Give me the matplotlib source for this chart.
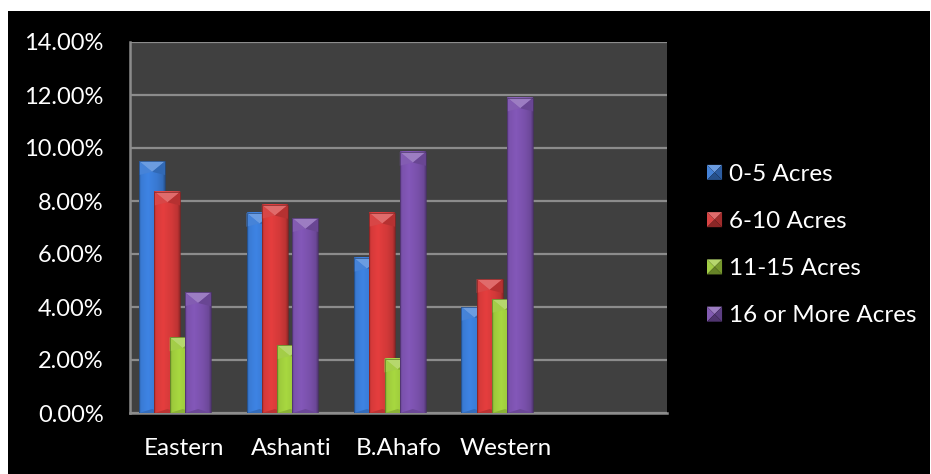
import numpy as np
import matplotlib.pyplot as plt
from matplotlib.patches import Rectangle, Polygon
from matplotlib.legend_handler import HandlerBase
from matplotlib.colors import to_rgb

plt.rcParams['font.family'] = ['Lato', 'DejaVu Sans']

# === Data (percent of farmers) ===
regions = ['Eastern', 'Ashanti', 'B.Ahafo', 'Western']
series_names = ['0-5 Acres', '6-10 Acres', '11-15 Acres', '16 or More Acres']
acres_0_5 = [9.5, 7.55, 5.85, 4.0]
acres_6_10 = [8.35, 7.85, 7.55, 5.05]
acres_11_15 = [2.85, 2.55, 2.05, 4.3]
acres_16_plus = [4.55, 7.35, 9.85, 11.9]
yticks = [0, 2, 4, 6, 8, 10, 12, 14]

series = [acres_0_5, acres_6_10, acres_11_15, acres_16_plus]
colors = ['#3a7bd5', '#d63a3a', '#9dca3c', '#7b52ad']


def shade(c, f):
    r = np.array(to_rgb(c)) * f
    return tuple(np.clip(r, 0, 1))


def tint(c, f):
    r = np.array(to_rgb(c))
    return tuple(r + (1 - r) * f)


def bevel_bar(ax, x0, w, h, color, z):
    # horizontal shading across the bar face
    t = np.linspace(0, 1, 64)
    prof = np.interp(t, [0, 0.08, 0.35, 0.7, 0.92, 1.0],
                     [0.8, 1.0, 1.07, 0.98, 0.88, 0.68])
    img = np.array([[shade(color, p) for p in prof]])
    ax.imshow(img, extent=(x0, x0 + w, 0, h), aspect='auto',
              interpolation='bilinear', zorder=z)
    # bevelled top cap
    dy = 0.4
    ax.add_patch(Polygon([(x0, h), (x0 + w, h), (x0 + w / 2, h - dy)],
                         closed=True, facecolor=tint(color, 0.25),
                         edgecolor='none', zorder=z + 0.01))
    ax.add_patch(Polygon([(x0, h), (x0 + w / 2, h - dy), (x0, h - dy * 1.3)],
                         closed=True, facecolor=tint(color, 0.06),
                         edgecolor='none', zorder=z + 0.01))
    ax.add_patch(Polygon([(x0 + w, h), (x0 + w / 2, h - dy), (x0 + w, h - dy * 1.3)],
                         closed=True, facecolor=shade(color, 0.85),
                         edgecolor='none', zorder=z + 0.01))
    # darker foot
    ax.add_patch(Polygon([(x0, 0), (x0 + w, 0), (x0 + w / 2, 0.15)],
                         closed=True, facecolor=shade(color, 0.88),
                         edgecolor='none', zorder=z + 0.01))
    ax.add_patch(Rectangle((x0, 0), w, h, facecolor='none',
                           edgecolor=shade(color, 0.6), linewidth=0.5,
                           zorder=z + 0.02))


class PyramidHandler(HandlerBase):
    def __init__(self, color):
        super().__init__()
        self.color = color

    def create_artists(self, legend, orig_handle, xdescent, ydescent,
                       width, height, fontsize, trans):
        x0, y0 = -xdescent, -ydescent
        s = min(width, height)
        cx, cy = x0 + s / 2, y0 + s / 2
        c = self.color
        corners = [(x0, y0), (x0 + s, y0), (x0 + s, y0 + s), (x0, y0 + s)]
        faces = [
            (corners[3], corners[2], tint(c, 0.25)),   # top
            (corners[0], corners[3], tint(c, 0.05)),   # left
            (corners[1], corners[2], shade(c, 0.75)),  # right
            (corners[0], corners[1], shade(c, 0.65)),  # bottom
        ]
        arts = []
        for a, b, fc in faces:
            p = Polygon([a, b, (cx, cy)], closed=True, facecolor=fc,
                        edgecolor='none', transform=trans)
            arts.append(p)
        return arts


fig = plt.figure(figsize=(9.31, 4.74), dpi=100, facecolor='white')
fig.add_artist(Rectangle((8 / 931, 0), 1 - 9 / 931, 1 - 11 / 474,
                         transform=fig.transFigure, facecolor='black',
                         edgecolor='none', zorder=0))

ax = fig.add_axes([130 / 931, 1 - 413 / 474, 537 / 931, 371 / 474])
ax.set_facecolor('#404040')

x = np.arange(len(regions))
bar_w = 0.242
step = 0.1425
shift = -0.08
for s, (vals, col) in enumerate(zip(series, colors)):
    for i, v in enumerate(vals):
        left = x[i] + shift + (s - 1.5) * step - bar_w / 2
        bevel_bar(ax, left, bar_w, v, col, 3 + s * 0.1)

ax.set_xlim(-0.5, 4.5)
ax.set_ylim(0, 14)
ax.set_yticks(yticks)
ax.set_yticklabels(['%.2f%%' % t for t in yticks])
ax.set_xticks(x)
ax.set_xticklabels(regions)
ax.yaxis.grid(True, color='#8c8c8c', linewidth=1.6)
ax.set_axisbelow(True)
ax.tick_params(axis='y', length=0, pad=19, labelsize=17, labelcolor='white')
ax.tick_params(axis='x', length=0, pad=18, labelsize=17.5, labelcolor='white')
for side in ['top', 'right']:
    ax.spines[side].set_visible(False)
for side in ['left', 'bottom']:
    ax.spines[side].set_color('#8c8c8c')
    ax.spines[side].set_linewidth(1.8)

handles = [Rectangle((0, 0), 1, 1, color=c) for c in colors]
leg = fig.legend(handles, series_names, loc='center left',
                 bbox_to_anchor=(707 / 931, 1 - 245 / 474), frameon=False,
                 fontsize=17.5, labelcolor='white', handlelength=0.62,
                 handleheight=0.62, handletextpad=0.3, labelspacing=1.08,
                 borderpad=0, borderaxespad=0,
                 handler_map={h: PyramidHandler(c) for h, c in zip(handles, colors)})

fig.savefig('out.png', dpi=100, facecolor='white')
